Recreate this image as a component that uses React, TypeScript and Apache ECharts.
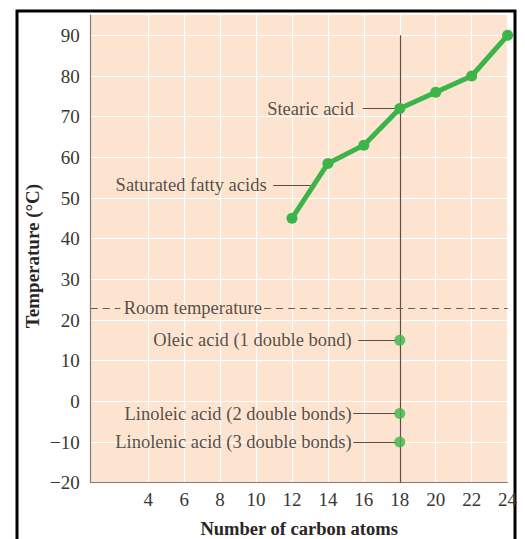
import React, { useEffect, useRef } from "react";
import * as echarts from "echarts";

// ---- data ----
const carbonAtoms = [12, 14, 16, 18, 20, 22, 24];
const saturatedMeltingPoints = [45, 58.5, 63, 72, 76, 80, 90];
const unsaturatedNames = [
  "Oleic acid (1 double bond)",
  "Linoleic acid (2 double bonds)",
  "Linolenic acid (3 double bonds)",
];
const unsaturatedCarbons = 18;
const unsaturatedMeltingPoints = [15, -3, -10];
const roomTemperature = 23;
const stearicLabel = "Stearic acid";
const saturatedLabel = "Saturated fatty acids";
const roomLabel = "Room temperature";
const xTickValues = [4, 6, 8, 10, 12, 14, 16, 18, 20, 22, 24];
const yTickValues = [-20, -10, 0, 10, 20, 30, 40, 50, 60, 70, 80, 90];
const xTitle = "Number of carbon atoms";
const yTitle = "Temperature (°C)";

const FONT = '"Liberation Serif", "Times New Roman", serif';
const GREEN = "#3bb54a";
const DARK = "#5e4f46";
const TEXT = "#2a2624";

export default function App() {
  const ref = useRef<HTMLDivElement>(null);

  useEffect(() => {
    document.body.style.margin = "0";
    if (!ref.current) return;
    const chart = echarts.init(ref.current, undefined, { renderer: "svg" });

    const saturated = carbonAtoms.map((c, i) => [c, saturatedMeltingPoints[i]]);
    const unsaturated = unsaturatedMeltingPoints.map((v) => [unsaturatedCarbons, v]);
    const stearicValue = saturatedMeltingPoints[carbonAtoms.indexOf(18)];

    const leader = (x1: number, y1: number, x2: number, y2: number) => [
      { coord: [x1, y1] },
      { coord: [x2, y2] },
    ];

    const labelPoint = (name: string, x: number, y: number) => ({
      name,
      value: [x, y],
    });

    const option: any = {
      animation: false,
      grid: {
        left: 90.7,
        right: 17.4,
        top: 15,
        bottom: 56.3,
        outerBoundsMode: "none",
        containLabel: false,
        show: true,
        backgroundColor: "#fde4d0",
        borderWidth: 0,
      },
      xAxis: {
        type: "value",
        min: 0.8,
        max: 24,
        name: xTitle,
        nameLocation: "middle",
        nameGap: 37,
        nameTextStyle: { fontFamily: FONT, fontSize: 18.5, fontWeight: "bold", color: TEXT },
        axisLine: { show: true, onZero: false, lineStyle: { color: "#8a7a70", width: 1.2 } },
        axisTick: { show: false, customValues: xTickValues },
        axisLabel: {
          customValues: xTickValues,
          fontFamily: FONT,
          fontSize: 19,
          color: "#3a3633",
          margin: 7,
        },
        splitLine: { show: true, lineStyle: { color: "#ffffff", width: 1.2 } },
      },
      yAxis: {
        type: "value",
        min: -20,
        max: 95,
        axisLine: { show: true, onZero: false, lineStyle: { color: "#8a7a70", width: 1.2 } },
        axisTick: { show: false, customValues: yTickValues },
        axisLabel: {
          customValues: yTickValues,
          fontFamily: FONT,
          fontSize: 19,
          color: "#3a3633",
          margin: 11,
          formatter: (v: number) => (v < 0 ? "\u2212" + Math.abs(v) : String(v)),
        },
        splitLine: { show: true, lineStyle: { color: "#ffffff", width: 1.2 } },
      },
      graphic: [
        {
          type: "rect",
          shape: { x: 17, y: 11, width: 498, height: 600 },
          style: { fill: "none", stroke: "#000000", lineWidth: 3 },
          silent: true,
        },
        {
          type: "text",
          x: 32,
          y: 256,
          rotation: Math.PI / 2,
          style: {
            text: yTitle,
            font: 'bold 19px "Liberation Serif", "Times New Roman", serif',
            fill: TEXT,
            align: "center",
            verticalAlign: "middle",
          },
        },
      ],
      series: [
        {
          name: "annotations",
          type: "scatter",
          z: 3,
          symbolSize: 0,
          silent: true,
          data: [
            labelPoint(stearicLabel, 15.45, stearicValue),
            labelPoint(saturatedLabel, 10.59, 53.2),
            labelPoint(roomLabel, 10.33, roomTemperature),
            ...unsaturatedNames.map((n, i) => labelPoint(n, 15.32, unsaturatedMeltingPoints[i])),
          ],
          label: {
            show: true,
            position: "left",
            distance: 0,
            formatter: "{b}",
            fontFamily: FONT,
            fontSize: 18.5,
            color: TEXT,
          },
          markLine: {
            silent: true,
            symbol: ["none", "none"],
            z: 3,
            label: { show: false },
            lineStyle: { color: DARK, width: 1.2, type: "solid" },
            data: [
              // vertical line at 18 carbons
              leader(unsaturatedCarbons, 90, unsaturatedCarbons, -20),
              leader(15.94, stearicValue, 17.8, stearicValue),
              leader(10.96, 53.2, 13.1, 53.2),
              leader(15.69, unsaturatedMeltingPoints[0], 17.8, unsaturatedMeltingPoints[0]),
              leader(15.41, unsaturatedMeltingPoints[1], 17.8, unsaturatedMeltingPoints[1]),
              leader(15.41, unsaturatedMeltingPoints[2], 17.8, unsaturatedMeltingPoints[2]),
              // room temperature dashed segments
              [
                { coord: [0.8, roomTemperature], lineStyle: { type: [7, 5], color: "#6d5d52" } },
                { coord: [2.45, roomTemperature] },
              ],
              [
                { coord: [10.45, roomTemperature], lineStyle: { type: [7, 5], color: "#6d5d52" } },
                { coord: [24, roomTemperature] },
              ],
            ],
          },
        },
        {
          name: "Saturated fatty acids",
          type: "line",
          z: 10,
          data: saturated,
          symbol: "circle",
          symbolSize: 11,
          lineStyle: { color: GREEN, width: 5 },
          itemStyle: { color: GREEN },
        },
        {
          name: "Unsaturated fatty acids",
          type: "scatter",
          z: 10,
          data: unsaturated,
          symbol: "circle",
          symbolSize: 11,
          itemStyle: { color: GREEN },
        },
      ],
    };

    chart.setOption(option);
    return () => chart.dispose();
  }, []);

  return <div ref={ref} style={{ width: 525, height: 539 }} />;
}
